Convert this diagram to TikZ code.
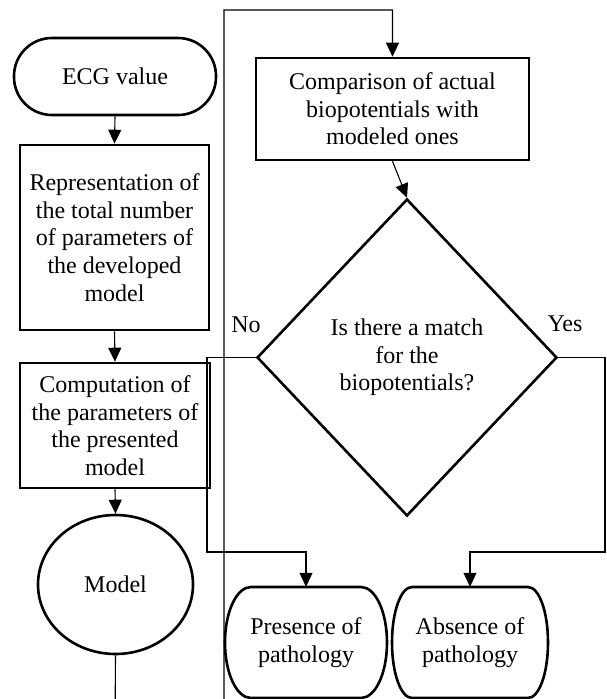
\documentclass[tikz,border=0pt]{standalone}
\usepackage{fontspec}
\setmainfont{Liberation Serif}
\usetikzlibrary{shapes.geometric,arrows.meta}
\tikzset{
  txt/.style={font=\fontsize{24}{27.6}\selectfont, align=center, inner sep=0pt},
  nodeline/.style={line width=2.6pt, line join=miter},
  boxnode/.style={txt, draw, nodeline, rectangle, minimum width=#1},
  conn/.style={line width=1.1pt, -{Triangle[length=14pt,width=13pt]}},
  plainline/.style={line width=1.1pt},
}
\newcommand\bulgeoutline[3]{%
  \begin{scope}[shift={(#1.center)}]
    \draw[nodeline] (-#3,-55.5) -- (#3,-55.5)
      .. controls ({#3+0.55*(#2-#3)},-55.5) and (#2,-31) .. (#2,0)
      .. controls (#2,31) and ({#3+0.55*(#2-#3)},55.5) .. (#3,55.5)
      -- (-#3,55.5)
      .. controls ({-#3-0.55*(#2-#3)},55.5) and (-#2,31) .. (-#2,0)
      .. controls (-#2,-31) and ({-#3-0.55*(#2-#3)},-55.5) .. (-#3,-55.5) -- cycle;
  \end{scope}}
\begin{document}
\begin{tikzpicture}[x=1pt,y=-1pt]
\useasboundingbox (0,0) rectangle (607,699);
\clip (0,0) rectangle (607,699);

% left column
\node[txt, draw, nodeline, rectangle, rounded corners=38pt, minimum width=202pt, minimum height=77pt] (ecg) at (115,76.5) {ECG value};
\node[boxnode=189pt, minimum height=185pt] (rep) at (114.5,237.5) {Representation of\\the total number\\of parameters of\\the developed\\model};
\node[boxnode=190pt, minimum height=125pt] (comp) at (115,425.5) {Computation of\\the parameters of\\the presented\\model};
\node[txt, draw, nodeline, ellipse, minimum width=155pt, minimum height=139pt] (model) at (115.5,584.5) {Model};

% right column
\node[boxnode=273pt, minimum height=102pt] (cmp) at (392.5,109) {Comparison of actual\\biopotentials with\\modeled ones};
\node[txt, draw, nodeline, diamond, minimum width=300pt, minimum height=317pt] (dia) at (407,357.5) {Is there a match\\for the\\biopotentials?};
\node[txt, minimum width=162pt, minimum height=111pt] (pres) at (306,642.5) {Presence of\\pathology};
\node[txt, minimum width=156pt, minimum height=111pt] (abs) at (470,642.5) {Absence of\\pathology};
\bulgeoutline{pres}{81}{55}
\bulgeoutline{abs}{78}{58}

\node[txt] (nolbl) at (246,325) {No};
\node[txt] (yeslbl) at (565,324) {Yes};

% helper coordinates
\coordinate (loopbottom) at (115,730);
\coordinate (looptop) at (224,10);
\coordinate (nocorner) at (207,552);
\coordinate (yescorner) at (605,552);

% connectors
\draw[conn] (ecg.south) -- (rep.north);
\draw[conn] (rep.south) -- (comp.north);
\draw[conn] (comp.south) -- (model.north);
\draw[conn] (model.south) -- (loopbottom) -| (looptop) -| (cmp.north);
\draw[conn] (cmp.south) -- (dia.north);
\draw[conn] (dia.west) -| (nocorner) -| (pres.north);
\draw[conn] (dia.east) -| (yescorner) -| (abs.north);
\end{tikzpicture}
\end{document}
